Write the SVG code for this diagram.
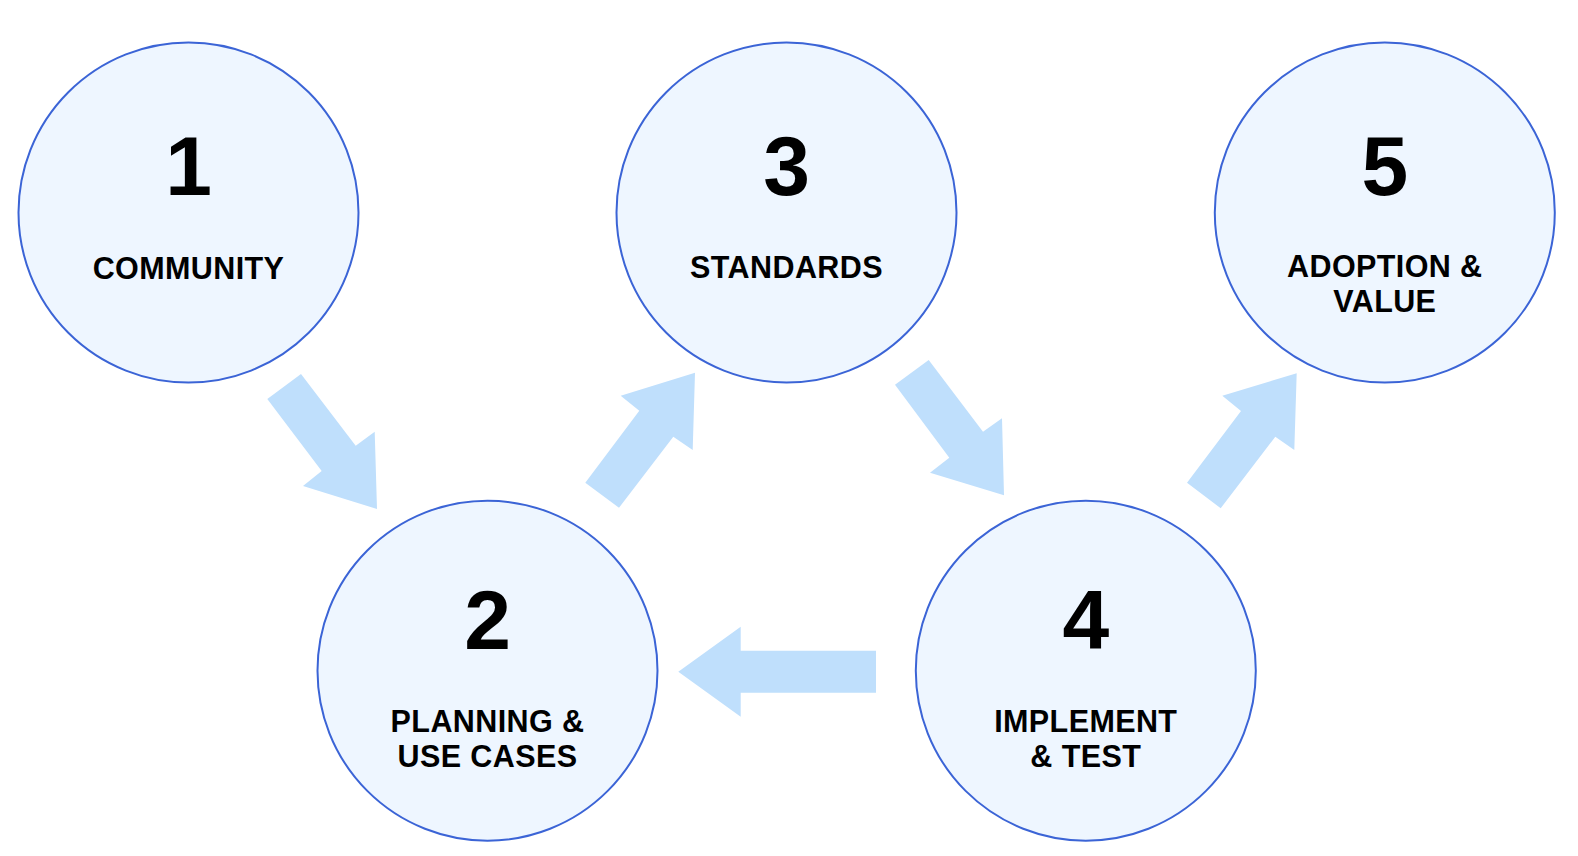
<svg xmlns="http://www.w3.org/2000/svg" width="1578" height="856" viewBox="0 0 1578 856">
<style>
.c{fill:#EEF6FF;stroke:#3B64D6;stroke-width:2}
.n{font-family:"Liberation Sans",Arial,sans-serif;font-weight:bold;font-size:84px;fill:#000;text-anchor:middle}
.l{font-family:"Liberation Sans",Arial,sans-serif;font-weight:bold;font-size:30.5px;fill:#000;text-anchor:middle;letter-spacing:0.4px}
.a{fill:#BFDFFC}
</style>
<rect width="1578" height="856" fill="#fff"/>
<g id="connectors">
<polygon class="a" points="267.3,399 301,374 355.7,445.7 374.7,431.7 377,509 303,486 321.7,471"/>
<polygon class="a" points="585.3,482.7 619,507.7 673.3,436.7 692.7,450 695,372.7 620.7,395.7 639.3,410.7"/>
<polygon class="a" points="895,384.7 928.7,360 983,431.7 1002,418.3 1004,495.3 930,472.7 949.3,457.7"/>
<polygon class="a" points="876,650.7 740.7,650.7 740.7,626.7 678.3,671.7 740.7,716.7 740.7,692.7 876,692.7"/>
<polygon class="a" points="1187,482.7 1220.7,508.3 1275.3,436.7 1294.3,450 1296.7,373.3 1222.3,395.7 1241,411"/>
</g>
<g id="node1">
<circle class="c" cx="188.5" cy="212.5" r="170"/>
<text class="n" x="188.5" y="195">1</text>
<text class="l" x="188.5" y="278.5">COMMUNITY</text>
</g>
<g id="node2">
<circle class="c" cx="487.5" cy="670.7" r="170"/>
<text class="n" x="487.5" y="649">2</text>
<text class="l" x="487.5" y="731.5">PLANNING &amp;</text>
<text class="l" x="487.5" y="766.7">USE CASES</text>
</g>
<g id="node3">
<circle class="c" cx="786.5" cy="212.5" r="170"/>
<text class="n" x="786.5" y="195">3</text>
<text class="l" x="786.5" y="278.3">STANDARDS</text>
</g>
<g id="node4">
<circle class="c" cx="1085.8" cy="670.7" r="170"/>
<text class="n" x="1085.8" y="649">4</text>
<text class="l" x="1085.8" y="731.5">IMPLEMENT</text>
<text class="l" x="1085.8" y="766.7">&amp; TEST</text>
</g>
<g id="node5">
<circle class="c" cx="1384.8" cy="212.5" r="170"/>
<text class="n" x="1384.8" y="195">5</text>
<text class="l" x="1384.8" y="276.7">ADOPTION &amp;</text>
<text class="l" x="1384.8" y="311.7">VALUE</text>
</g>
</svg>
